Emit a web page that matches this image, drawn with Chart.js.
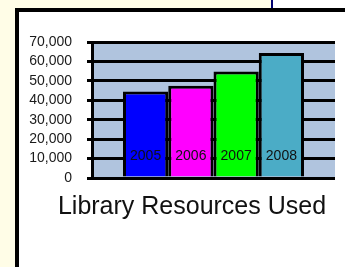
<!DOCTYPE html>
<html>
<head>
<meta charset="utf-8">
<script src="https://cdn.jsdelivr.net/npm/chart.js@4"></script>
<style>
  html, body { margin: 0; padding: 0; }
  body { width: 345px; height: 267px; background: #FFFDE7; position: relative; overflow: hidden; }
  #topRight { position: absolute; left: 271px; top: 0; width: 80px; height: 10px; background: #fff; border-left: 2px solid #000070; }
  #frame { position: absolute; left: 15px; top: 8px; width: 400px; height: 300px; background: #fff; border: 4px solid #000; }
  #wrap { position: absolute; left: 0; top: 0; width: 345px; height: 267px; }
</style>
</head>
<body>
<div id="topRight"></div>
<div id="frame"></div>
<div id="wrap"><canvas id="chart"></canvas></div>
<script>
// datos
const years = ['2005', '2006', '2007', '2008'];
const resourcesUsed = [44500, 47500, 54800, 64300];
const barColors = ['#0000FF', '#FF00FF', '#00FF00', '#4BACC6'];
const yTicks = [0, 10000, 20000, 30000, 40000, 50000, 60000, 70000];

const FONT = "Arial, 'Liberation Sans', sans-serif";

// fondo azul del área de trazado
const plotBg = {
    id: 'plotBg',
    beforeDraw(chart) {
        const { ctx, chartArea: a } = chart;
        ctx.save();
        ctx.fillStyle = '#B0C4DE';
        ctx.fillRect(a.left, a.top, a.right - a.left, a.bottom - a.top);
        ctx.restore();
    }
};

// el título va centrado dentro del marco, no en todo el canvas
const titleShift = {
    id: 'titleShift',
    afterLayout(chart) {
        if (chart.titleBlock) {
            chart.titleBlock.left = 39;
            chart.titleBlock.right = 345;
        }
    }
};

// año escrito dentro de cada barra
const yearLabels = {
    id: 'yearLabels',
    afterDatasetsDraw(chart) {
        const { ctx, chartArea } = chart;
        ctx.save();
        ctx.font = '14px ' + FONT;
        ctx.fillStyle = '#111';
        ctx.textAlign = 'center';
        ctx.textBaseline = 'middle';
        chart.data.datasets.forEach((ds, i) => {
            const bar = chart.getDatasetMeta(i).data[0];
            ctx.fillText(ds.label, bar.x, chartArea.bottom - 22);
        });
        ctx.restore();
    }
};

const ctx = document.getElementById('chart').getContext('2d');
const chart = new Chart(ctx, {
    type: 'bar',
    data: {
        labels: [''],
        datasets: years.map((y, i) => ({
            label: y,
            data: [resourcesUsed[i]],
            backgroundColor: barColors[i],
            borderColor: '#000',
            borderWidth: 3,
            categoryPercentage: 0.745,
            barPercentage: 1
        }))
    },
    options: {
        responsive: true,
        maintainAspectRatio: false,
        animation: false,
        layout: { padding: { left: 0, right: 0, top: 42, bottom: 45 } },
        scales: {
            x: { display: false },
            y: {
                min: 0,
                max: 70000,
                afterFit: s => { s.width = 92; },
                afterBuildTicks: s => { s.ticks = yTicks.map(v => ({ value: v })); },
                ticks: {
                    autoSkip: false,
                    padding: 15,
                    color: '#1a1a1a',
                    font: { family: FONT, size: 14 },
                    callback: v => v.toLocaleString('en-US')
                },
                grid: { color: '#000', lineWidth: 3, tickLength: 5 },
                border: { display: true, color: '#000', width: 3 }
            },
            y2: {
                position: 'right',
                display: true,
                afterFit: s => { s.width = 10; },
                ticks: { display: false },
                grid: { display: false },
                border: { display: false }
            }
        },
        plugins: {
            legend: { display: false },
            tooltip: { enabled: false },
            title: {
                display: true,
                position: 'bottom',
                text: 'Library Resources Used',
                color: '#111',
                font: { family: FONT, size: 25, weight: 'normal', lineHeight: 1.2 },
                padding: { top: 14, bottom: 0 }
            }
        }
    },
    plugins: [plotBg, titleShift, yearLabels]
});
</script>
</body>
</html>
